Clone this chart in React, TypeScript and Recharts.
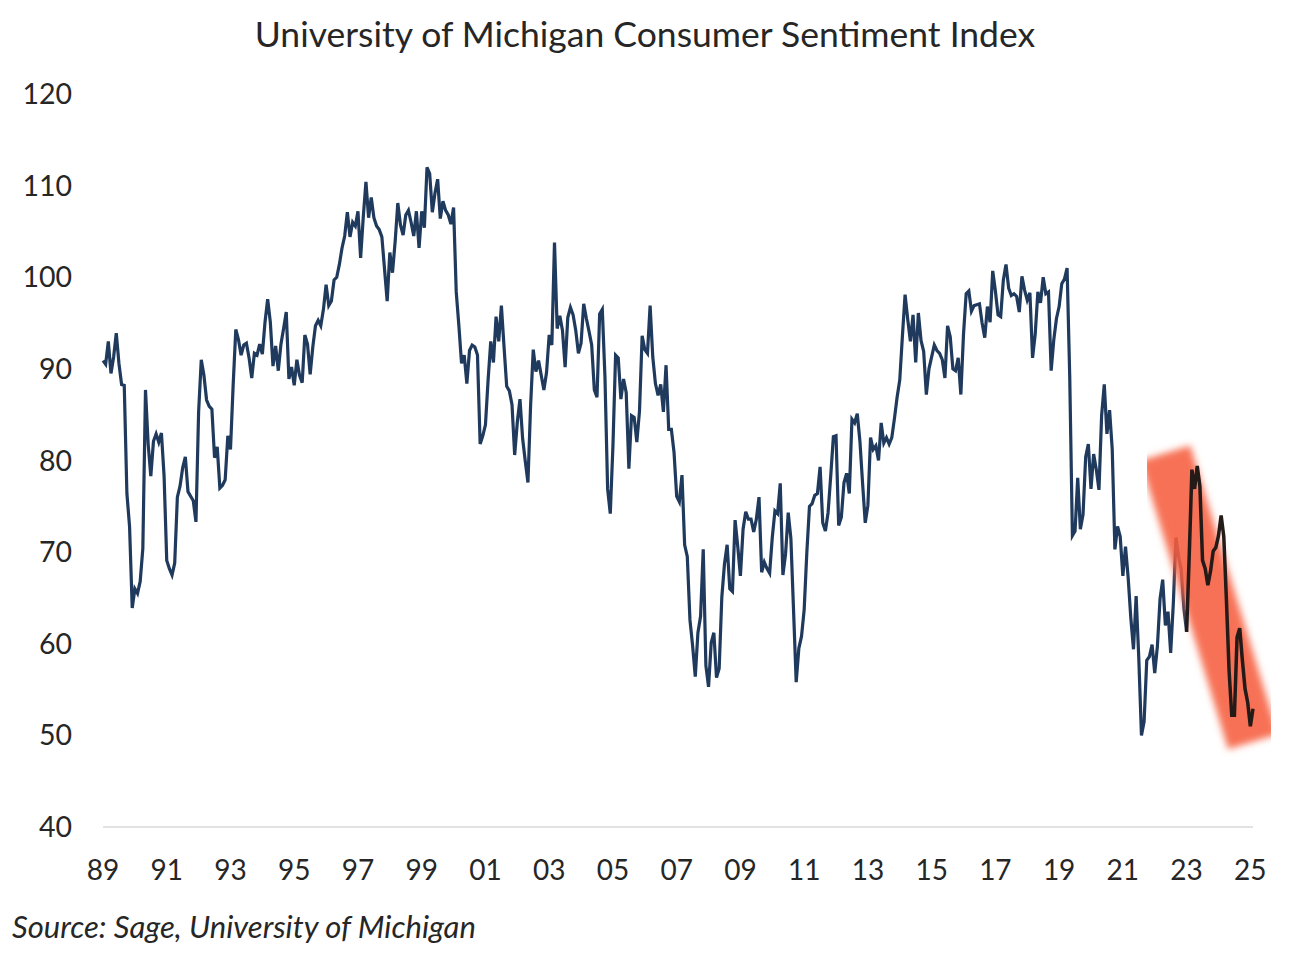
import { LineChart, Line, XAxis, YAxis } from "recharts";

// Monthly index, Nov 1989 to Dec 2025, one calendar year per row
const sentiment = [
  90.9, 90.5, // 1989 (Nov, Dec)
  93.0, 89.5, 91.3, 93.9, 90.6, 88.3, 88.2, 76.4, 72.8, 63.9, 66.0, 65.5, // 1990
  66.8, 70.4, 87.7, 81.8, 78.3, 82.1, 82.9, 82.0, 83.0, 78.3, 69.1, 68.2, // 1991
  67.5, 68.8, 76.0, 77.2, 79.2, 80.4, 76.6, 76.1, 75.6, 73.3, 85.3, 91.0, // 1992
  89.3, 86.6, 85.9, 85.6, 80.3, 81.5, 77.0, 77.3, 77.9, 82.7, 81.2, 88.2, // 1993
  94.3, 93.2, 91.5, 92.6, 92.8, 91.2, 89.0, 91.7, 91.5, 92.7, 91.6, 95.1, // 1994
  97.6, 95.1, 90.3, 92.5, 89.8, 92.7, 94.4, 96.2, 88.9, 90.2, 88.2, 91.0, // 1995
  89.3, 88.5, 93.7, 92.7, 89.4, 92.4, 94.7, 95.3, 94.7, 96.5, 99.2, 96.9, // 1996
  97.4, 99.7, 100.0, 101.4, 103.2, 104.5, 107.1, 104.4, 106.0, 105.6, 107.2, 102.1, // 1997
  106.6, 110.4, 106.5, 108.7, 106.5, 105.6, 105.2, 104.4, 100.9, 97.4, 102.7, 100.5, // 1998
  103.9, 108.1, 105.7, 104.6, 106.8, 107.3, 106.0, 104.5, 107.2, 103.2, 107.2, 105.4, // 1999
  112.0, 111.3, 107.1, 109.2, 110.7, 106.4, 108.3, 107.3, 106.8, 105.8, 107.6, 98.4, // 2000
  94.7, 90.6, 91.5, 88.4, 92.0, 92.6, 92.4, 91.5, 81.8, 82.7, 83.9, 88.8, // 2001
  93.0, 90.7, 95.7, 93.0, 96.9, 92.4, 88.1, 87.6, 86.1, 80.6, 84.2, 86.7, // 2002
  82.4, 79.9, 77.6, 86.0, 92.1, 89.7, 90.9, 89.3, 87.7, 89.6, 93.7, 92.6, // 2003
  103.8, 94.4, 95.8, 94.2, 90.2, 95.6, 96.7, 95.9, 94.2, 91.7, 92.8, 97.1, // 2004
  95.5, 94.1, 92.6, 87.7, 86.9, 96.0, 96.5, 89.1, 76.9, 74.2, 81.6, 91.5, // 2005
  91.2, 86.7, 88.9, 87.4, 79.1, 84.9, 84.7, 82.0, 85.4, 93.6, 92.1, 91.7, // 2006
  96.9, 91.3, 88.4, 87.1, 88.3, 85.3, 90.4, 83.4, 83.4, 80.9, 76.1, 75.5, // 2007
  78.4, 70.8, 69.5, 62.6, 59.8, 56.4, 61.2, 63.0, 70.3, 57.6, 55.3, 60.1, // 2008
  61.2, 56.3, 57.3, 65.1, 68.7, 70.8, 66.0, 65.7, 73.5, 70.6, 67.4, 72.5, // 2009
  74.4, 73.6, 73.6, 72.2, 73.6, 76.0, 67.8, 68.9, 68.2, 67.7, 71.6, 74.5, // 2010
  74.2, 77.5, 67.5, 69.8, 74.3, 71.5, 63.7, 55.8, 59.5, 60.8, 63.7, 69.9, // 2011
  75.0, 75.3, 76.2, 76.4, 79.3, 73.2, 72.3, 74.3, 78.3, 82.6, 82.7, 72.9, // 2012
  73.8, 77.6, 78.6, 76.4, 84.5, 84.1, 85.1, 82.1, 77.5, 73.2, 75.1, 82.5, // 2013
  81.2, 81.6, 80.0, 84.1, 81.9, 82.5, 81.8, 82.5, 84.6, 86.9, 88.8, 93.6, // 2014
  98.1, 95.4, 93.0, 95.9, 90.7, 96.1, 93.1, 91.9, 87.2, 90.0, 91.3, 92.6, // 2015
  92.0, 91.7, 91.0, 89.0, 94.7, 93.5, 90.0, 89.8, 91.2, 87.2, 93.8, 98.2, // 2016
  98.5, 96.3, 96.9, 97.0, 97.1, 95.0, 93.4, 96.8, 95.1, 100.7, 98.5, 95.9, // 2017
  95.7, 99.7, 101.4, 98.8, 98.0, 98.2, 97.9, 96.2, 100.1, 98.6, 97.5, 98.3, // 2018
  91.2, 93.8, 98.4, 97.2, 100.0, 98.2, 98.4, 89.8, 93.2, 95.5, 96.8, 99.3, // 2019
  99.8, 101.0, 89.1, 71.8, 72.3, 78.1, 72.5, 74.1, 80.4, 81.8, 76.9, 80.7, // 2020
  79.0, 76.8, 84.9, 88.3, 82.9, 85.5, 81.2, 70.3, 72.8, 71.7, 67.4, 70.6, // 2021
  67.2, 62.8, 59.4, 65.2, 58.4, 50.0, 51.5, 58.2, 58.6, 59.9, 56.8, 59.7, // 2022
  64.9, 67.0, 62.0, 63.5, 59.0, 64.4, 71.6, 69.5, 68.1, 63.8, 61.3, 69.7, // 2023
  79.0, 76.9, 79.4, 77.2, 69.1, 68.2, 66.4, 67.9, 70.1, 70.5, 71.8, 74.0, // 2024
  71.7, 64.7, 57.0, 52.2, 52.2, 60.7, 61.7, 58.2, 55.1, 53.6, 51.0, 52.9, // 2025
];

const firstYear = 1989;
const firstMonth = 11;
const months = sentiment.map((_, i) => {
  const m = firstMonth - 1 + i;
  const y = firstYear + Math.floor(m / 12);
  return `${y}-${String((m % 12) + 1).padStart(2, "0")}`;
});

const yTicks = [40, 50, 60, 70, 80, 90, 100, 110, 120];

// the hand-drawn part starts here and the marker stroke runs between these two points
const recentFrom = "2023-11";
const markerEnds = [
  { month: "2023-03", value: 80.8 },
  { month: "2025-12", value: 49.3 },
];

const recentIndex = months.indexOf(recentFrom);

const rows = months.map((month, i) => {
  const end = markerEnds.find((e) => e.month === month);
  return {
    month,
    value: i <= recentIndex ? sentiment[i] : null,
    recent: i >= recentIndex ? sentiment[i] : null,
    marker: end ? end.value : null,
  };
});

const FONT = "Lato, 'Open Sans', sans-serif";
const TEXT = "#262626";

export default function App() {
  return (
    <div
      style={{
        position: "fixed",
        left: 0,
        top: 0,
        width: 1290,
        height: 957,
        background: "#fff",
        fontFamily: FONT,
      }}
    >
      <div
        style={{
          position: "absolute",
          top: 12,
          left: 0,
          width: 1290,
          textAlign: "center",
          fontSize: 35.5,
          color: TEXT,
        }}
      >
        University of Michigan Consumer Sentiment Index
      </div>
      <LineChart
        width={1290}
        height={957}
        data={rows}
        margin={{ top: 94, right: 37, bottom: 80, left: 0 }}
      >
        <defs>
          <filter id="soft" x="-20%" y="-20%" width="140%" height="140%">
            <feGaussianBlur stdDeviation="3.5" />
          </filter>
        </defs>
        <XAxis
          dataKey="month"
          interval={23}
          height={50}
          tickSize={0}
          tickMargin={33}
          axisLine={{ stroke: "#d9d9d9", strokeWidth: 1.5 }}
          tick={{ fill: TEXT, fontSize: 28, fontFamily: FONT }}
          tickFormatter={(m: string) => m.slice(2, 4)}
        />
        <YAxis
          domain={[40, 120]}
          ticks={yTicks}
          width={103}
          tickSize={0}
          tickMargin={31}
          axisLine={false}
          tickLine={false}
          tick={{ fill: TEXT, fontSize: 28.5, fontFamily: FONT }}
        />
        <Line
          dataKey="value"
          stroke="#1f3a5c"
          strokeWidth={3.2}
          dot={false}
          isAnimationActive={false}
        />
        <Line
          dataKey="marker"
          connectNulls
          stroke="#f65e3e"
          strokeOpacity={0.88}
          strokeWidth={52}
          strokeLinecap="butt"
          filter="url(#soft)"
          dot={false}
          isAnimationActive={false}
        />
        <Line
          dataKey="recent"
          stroke="#241a18"
          strokeWidth={3.5}
          dot={false}
          isAnimationActive={false}
        />
      </LineChart>
      <div
        style={{
          position: "absolute",
          top: 907,
          left: 12,
          fontSize: 31,
          fontStyle: "italic",
          color: TEXT,
        }}
      >
        Source: Sage, University of Michigan
      </div>
    </div>
  );
}
